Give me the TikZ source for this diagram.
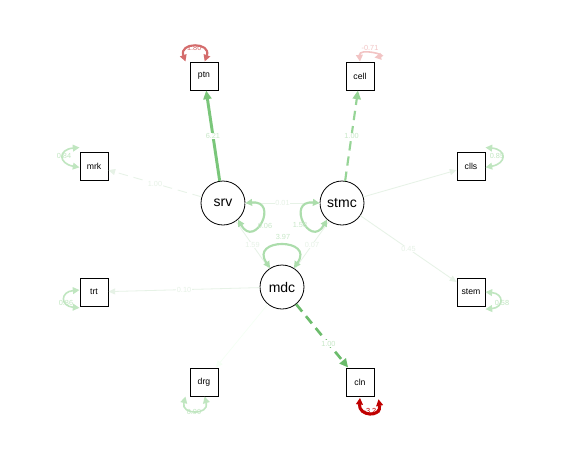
\documentclass[tikz,border=0pt]{standalone}
\usepackage{fontspec}
\setmainfont{Liberation Sans}
\usetikzlibrary{arrows.meta}
\definecolor{gA}{RGB}{122,198,122}
\definecolor{gB}{RGB}{150,212,150}
\definecolor{gC}{RGB}{108,188,108}
\definecolor{gF}{RGB}{230,242,230}
\definecolor{gL}{RGB}{172,221,172}
\definecolor{gM}{RGB}{192,230,192}
\definecolor{gT}{RGB}{200,232,200}
\definecolor{rA}{RGB}{212,108,108}
\definecolor{rB}{RGB}{242,196,196}
\definecolor{rC}{RGB}{192,0,0}
\begin{document}
\begin{tikzpicture}[x=0.75pt,y=-0.75pt,
  man/.style={draw,line width=0.75pt,minimum size=21pt,inner sep=0pt,font=\fontsize{6.5}{7}\selectfont},
  lat/.style={draw,circle,line width=0.6pt,minimum size=33pt,inner sep=0pt,font=\fontsize{10.5}{12}\selectfont},
  lab/.style={fill=white,inner sep=0.4pt,font=\fontsize{5.5}{6}\selectfont},
  flab/.style={inner sep=0pt,font=\fontsize{5.5}{6}\selectfont},
  tip/.style={-{Triangle[length=5pt,width=4.5pt]}},
  bigtip/.style={-{Triangle[length=6.5pt,width=6pt]}},
  both/.style={{Triangle[length=5pt,width=5pt]}-{Triangle[length=5pt,width=5pt]}},
  dsh/.style={dash pattern=on 7pt off 4.5pt},
]
\useasboundingbox[fill=white] (0,0) rectangle (565,458);

% manifest nodes
\node[man] (ptn)  at (204,76)  {ptn};
\node[man] (cell) at (360,76)  {cell};
\node[man] (mrk)  at (94,166)  {mrk};
\node[man] (clls) at (471,166) {clls};
\node[man] (trt)  at (94,292)  {trt};
\node[man] (stem) at (471,292) {stem};
\node[man] (drg)  at (204,382) {drg};
\node[man] (cln)  at (360,382) {cln};
% latent nodes
\node[lat] (srv)  at (223,203) {srv};
\node[lat] (stmc) at (342,203) {stmc};
\node[lat] (mdc)  at (282,287) {mdc};

% faint edges
\draw[gF,line width=0.6pt] (srv) -- node[lab,text=gF]{0.01} (stmc);
\draw[gF,line width=0.6pt] (srv) -- node[lab,text=gF]{1.59} (mdc);
\draw[gF,line width=0.6pt] (stmc) -- node[lab,text=gF]{0.07} (mdc);
\draw[tip,gF,line width=0.6pt,dsh] (srv) -- node[lab,text=gF]{1.00} (mrk);
\draw[tip,gF,line width=0.6pt] (stmc) -- (clls);
\draw[tip,gF,line width=0.6pt] (stmc) -- node[lab,text=gF]{0.45} (stem);
\draw[tip,gF,line width=0.6pt] (mdc) -- node[lab,text=gF]{0.10} (trt);
\draw[tip,white!96!green,line width=0.5pt] (mdc) -- (drg);

% strong edges
\draw[bigtip,gA,line width=2.2pt] (srv) -- node[lab,text=gT]{6.21} (ptn);
\draw[bigtip,gB,line width=1.6pt,dsh] (stmc) -- node[lab,text=gT]{1.00} (cell);
\draw[bigtip,gC,line width=2pt,dsh] (mdc) -- node[lab,text=gT,pos=0.62]{1.00} (cln);

% latent variance loops
\draw[both,gL,line width=1.6pt] (srv.0) to[out=5,in=-60,looseness=4.8] (srv.-48);
\node[flab,text=gT] at (265,226) {0.06};
\draw[both,gL,line width=1.6pt] (stmc.180) to[out=175,in=240,looseness=4.8] (stmc.228);
\node[flab,text=gT] at (300,225) {1.58};
\draw[both,gL,line width=1.6pt] (mdc.122) to[out=125,in=55,looseness=4] (mdc.58);
\node[flab,text=gT] at (283,237) {3.97};

% manifest variance loops
\draw[both,rA,line width=1.6pt] ([xshift=-3pt]ptn.north west) to[out=110,in=70,looseness=2.8] ([xshift=0.5pt]ptn.north);
\node[flab,text=rA] at (193,48) {-1.80};
\draw[both,rB,line width=1.2pt] (cell.north) to[out=95,in=10,looseness=2.4] ([yshift=3pt]cell.north east);
\node[flab,text=rB] at (370,48) {-0.71};
\draw[both,gM,line width=1.2pt] ([yshift=3pt]mrk.north west) to[out=185,in=170,looseness=2.8] ([yshift=-1pt]mrk.west);
\node[flab,text=gM] at (64,156) {0.84};
\draw[both,gM,line width=1.2pt] ([yshift=3pt]clls.north east) to[out=-5,in=10,looseness=2.8] ([yshift=-1pt]clls.east);
\node[flab,text=gM] at (497,156) {0.85};
\draw[both,gM,line width=1.2pt] ([yshift=1.5pt]trt.west) to[out=185,in=175,looseness=2.8] ([yshift=-1pt]trt.south west);
\node[flab,text=gM] at (66,303) {0.86};
\draw[both,gM,line width=1.2pt] ([yshift=0pt]stem.east) to[out=-5,in=5,looseness=2.8] ([yshift=-2pt]stem.south east);
\node[flab,text=gM] at (502,303) {0.58};
\draw[both,gM,line width=1.2pt] ([xshift=-3pt]drg.south west) to[out=-105,in=-75,looseness=2.6] ([xshift=0.5pt]drg.south);
\node[flab,text=gM] at (194,412) {0.90};
\draw[both,rC,line width=2.3pt] ([yshift=-1pt]cln.south) to[out=-95,in=-80,looseness=2.6] ([xshift=3pt,yshift=-2pt]cln.south east);
\node[flab,text=rC] at (372,411) {-3.24};
\end{tikzpicture}
\end{document}
